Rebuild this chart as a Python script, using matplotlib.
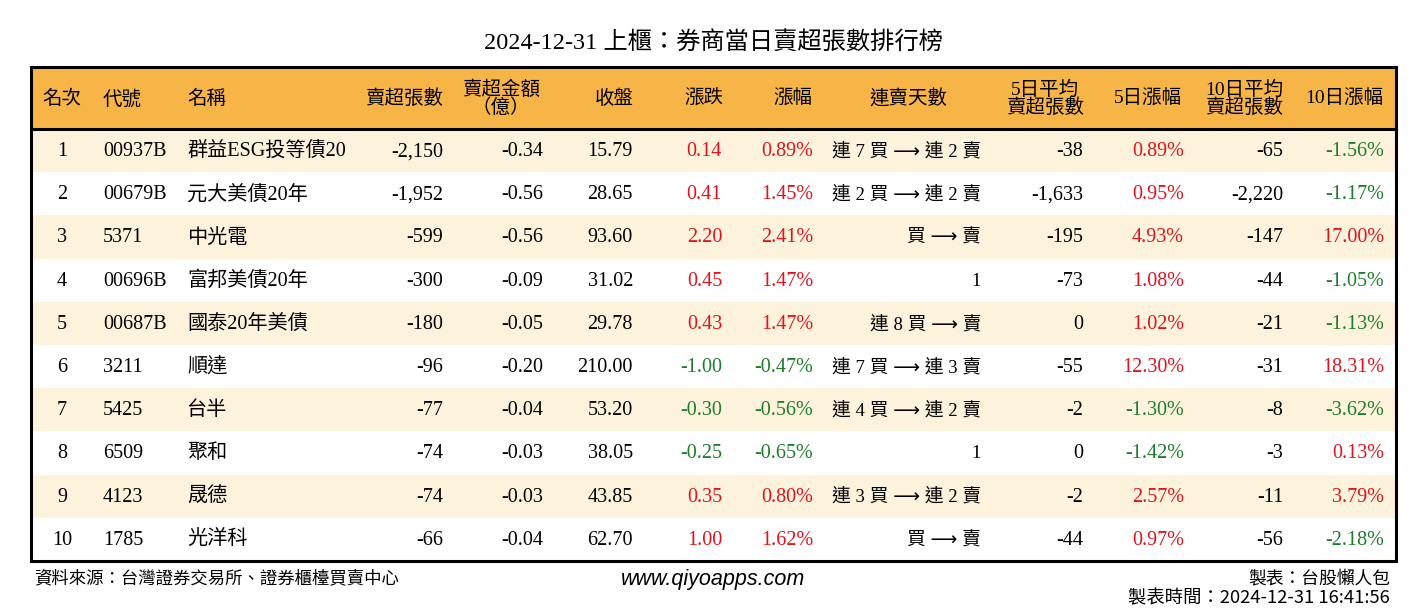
import matplotlib
matplotlib.use('Agg')
import matplotlib.pyplot as plt
from matplotlib.patches import Rectangle

# Table data
title = '2024-12-31 上櫃：券商當日賣超張數排行榜'
headers = ['名次', '代號', '名稱', '賣超張數', '賣超金額\n（億）', '收盤', '漲跌', '漲幅',
           '連賣天數', '5日平均\n賣超張數', '5日漲幅', '10日平均\n賣超張數', '10日漲幅']
ranks = [1, 2, 3, 4, 5, 6, 7, 8, 9, 10]
codes = ['00937B', '00679B', '5371', '00696B', '00687B', '3211', '5425', '6509', '4123', '1785']
names = ['群益ESG投等債20', '元大美債20年', '中光電', '富邦美債20年', '國泰20年美債',
         '順達', '台半', '聚和', '晟德', '光洋科']
sell_lots = [-2150, -1952, -599, -300, -180, -96, -77, -74, -74, -66]
sell_amount = [-0.34, -0.56, -0.56, -0.09, -0.05, -0.20, -0.04, -0.03, -0.03, -0.04]
close = [15.79, 28.65, 93.60, 31.02, 29.78, 210.00, 53.20, 38.05, 43.85, 62.70]
change = [0.14, 0.41, 2.20, 0.45, 0.43, -1.00, -0.30, -0.25, 0.35, 1.00]
change_pct = [0.89, 1.45, 2.41, 1.47, 1.47, -0.47, -0.56, -0.65, 0.80, 1.62]
streak = ['連 7 買 ⟶ 連 2 賣', '連 2 買 ⟶ 連 2 賣', '買 ⟶ 賣', '1', '連 8 買 ⟶ 賣',
          '連 7 買 ⟶ 連 3 賣', '連 4 買 ⟶ 連 2 賣', '1', '連 3 買 ⟶ 連 2 賣', '買 ⟶ 賣']
avg5 = [-38, -1633, -195, -73, 0, -55, -2, 0, -2, -44]
pct5 = [0.89, 0.95, 4.93, 1.08, 1.02, 12.30, -1.30, -1.42, 2.57, 0.97]
avg10 = [-65, -2220, -147, -44, -21, -31, -8, -3, -11, -56]
pct10 = [-1.56, -1.17, 17.00, -1.05, -1.13, 18.31, -3.62, 0.13, 3.79, -2.18]

source = '資料來源：台灣證券交易所、證券櫃檯買賣中心'
site = 'www.qiyoapps.com'
maker = '製表：台股懶人包'
made_time = '製表時間：2024-12-31 16:41:56'

FONT = ['Liberation Serif', 'Noto Sans CJK TC', 'DejaVu Sans']
RED = '#e0141e'
GREEN = '#1e7d2c'
HEADER_BG = '#f8b547'
ODD_BG = '#fdf2dc'

W, H = 1426, 612
fig = plt.figure(figsize=(W / 100, H / 100), dpi=100)
ax = fig.add_axes([0, 0, 1, 1])
ax.set_xlim(0, W)
ax.set_ylim(H, 0)
ax.axis('off')

left, right = 31, 1396
top, head_bot = 67, 129
row_h = 43.2
n = len(ranks)
bottom = head_bot + row_h * n

# header + row backgrounds
ax.add_patch(Rectangle((left, top), right - left, head_bot - top, color=HEADER_BG, lw=0))
for i in range(n):
    if i % 2 == 0:
        ax.add_patch(Rectangle((left, head_bot + i * row_h), right - left, row_h, color=ODD_BG, lw=0))
ax.plot([left, right], [head_bot, head_bot], color='black', lw=2.2)
ax.add_patch(Rectangle((left, top), right - left, bottom - top, fill=False, ec='black', lw=2.2))

ax.text(W / 2, 42, title, ha='center', va='center', fontsize=17.5, family=FONT)

# column layout: (x, align for cells, header x, header align)
cols = [
    (62, 'center', 62, 'center'),
    (103, 'left', 103, 'left'),
    (187, 'left', 187, 'left'),
    (443, 'right', 443, 'right'),
    (543, 'right', 501, 'center'),
    (633, 'right', 614, 'center'),
    (722, 'right', 704, 'center'),
    (813, 'right', 793, 'center'),
    (981, 'right', 908, 'center'),
    (1083, 'right', 1045, 'center'),
    (1184, 'right', 1148, 'center'),
    (1283, 'right', 1244, 'center'),
    (1384, 'right', 1344, 'center'),
]

head_y = (top + head_bot) / 2 + 1
for (x, a, hx, ha), h in zip(cols, headers):
    ax.text(hx, head_y, h, ha=ha, va='center', fontsize=14, family=FONT, linespacing=0.95)


def pct_color(v):
    return RED if v > 0 else GREEN


for i in range(n):
    y = head_bot + row_h * (i + 0.5) + 1
    cells = [
        (str(ranks[i]), 'black'),
        (codes[i], 'black'),
        (names[i], 'black'),
        (f'{sell_lots[i]:,}', 'black'),
        (f'{sell_amount[i]:.2f}', 'black'),
        (f'{close[i]:.2f}', 'black'),
        (f'{change[i]:.2f}', pct_color(change[i])),
        (f'{change_pct[i]:.2f}%', pct_color(change_pct[i])),
        (streak[i], 'black'),
        (f'{avg5[i]:,}', 'black'),
        (f'{pct5[i]:.2f}%', pct_color(pct5[i])),
        (f'{avg10[i]:,}', 'black'),
        (f'{pct10[i]:.2f}%', pct_color(pct10[i])),
    ]
    for j, ((x, a, hx, ha), (txt, c)) in enumerate(zip(cols, cells)):
        fs = 13.5 if j == 8 else 14.5
        ax.text(x, y, txt, ha=a, va='center', fontsize=fs, color=c, family=FONT)

# footer
ax.text(34, 578, source, ha='left', va='center', fontsize=12.5, family=['Noto Sans CJK TC'])
ax.text(713, 579, site, ha='center', va='center', fontsize=15.5, style='italic',
        family=['Liberation Sans', 'DejaVu Sans'])
ax.text(1390, 578, maker, ha='right', va='center', fontsize=12.8, family=['Noto Sans CJK TC'])
ax.text(1390, 598, made_time, ha='right', va='center', fontsize=13.2, family=['Noto Sans CJK TC'])

fig.savefig('out.png', dpi=100)
